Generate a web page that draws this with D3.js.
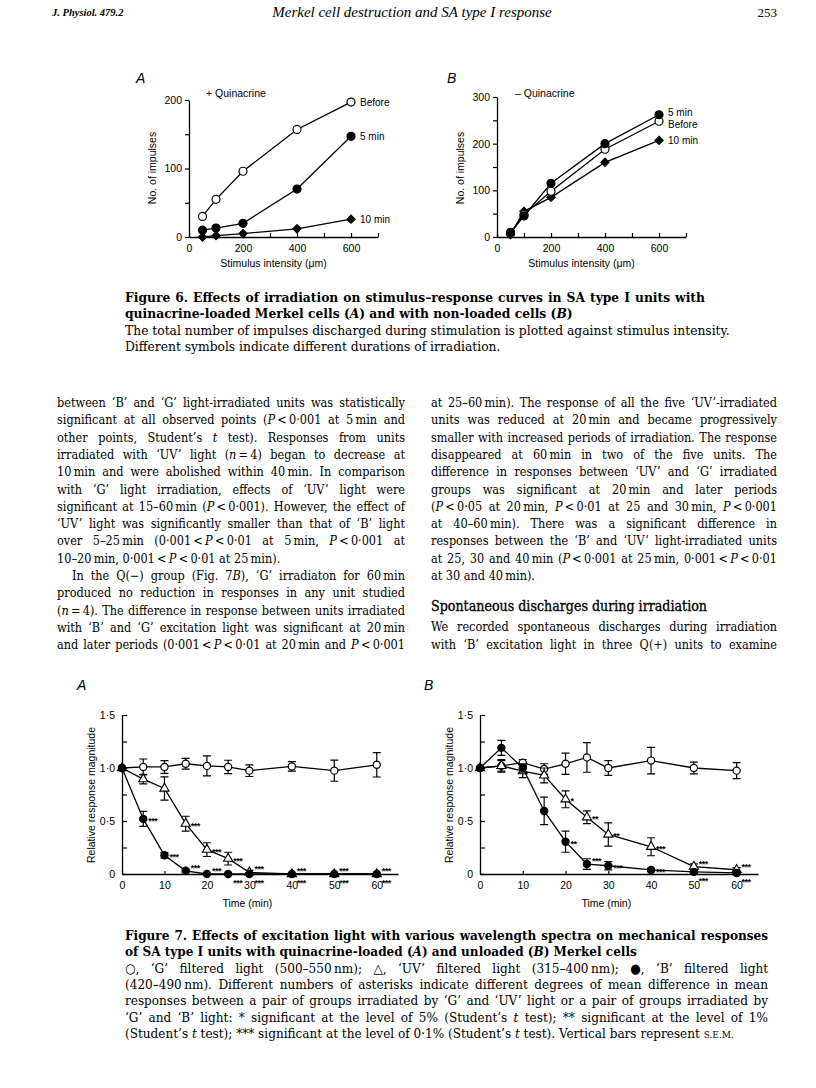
<!DOCTYPE html>
<html>
<head>
<meta charset="utf-8">
<script src="https://cdn.jsdelivr.net/npm/d3@7"></script>
<style>
  body { margin: 0; background: #fff; }
</style>
</head>
<body>
<svg id="page" width="816" height="1088"></svg>
<script>
// ---- Figure 6 data (No. of impulses vs stimulus intensity, um) ----
var stimIntensity = [50, 100, 200, 400, 600];
var quinBefore    = [30, 55, 96, 157, 197];
var quin5min      = [10, 13, 20, 70, 147];
var quin10min     = [0, 2, 5, 12, 26];
var noQuinBefore  = [8, 48, 98, 188, 248];
var noQuin5min    = [10, 45, 115, 200, 262];
var noQuin10min   = [5, 55, 85, 160, 207];
var stimTicks     = [0, 100, 200, 300, 400, 500, 600, 700];
var stimLabels    = [0, 200, 400, 600];
var seriesNames6  = ["Before", "5 min", "10 min"];

// ---- Figure 7 data (relative response magnitude vs time, min) ----
var times    = [0, 5, 10, 15, 20, 25, 30, 40, 50, 60];
var qG       = [1.0, 1.01, 1.01, 1.04, 1.02, 1.01, 0.975, 1.015, 0.975, 1.03];
var qGErr    = [0, 0.075, 0.06, 0.05, 0.095, 0.063, 0.055, 0.045, 0.1, 0.115];
var qUV      = [1.0, 0.895, 0.807, 0.475, 0.23, 0.145, 0.015, 0, 0, 0];
var qUVErr   = [0, 0.045, 0.11, 0.07, 0.065, 0.06, 0.02, 0, 0, 0];
var qB       = [1.0, 0.52, 0.177, 0.03, 0, 0, 0, 0, 0, 0];
var qBErr    = [0, 0.07, 0.025, 0.015, 0, 0, 0, 0, 0, 0];
var nG       = [1.0, 1.02, 1.05, 0.99, 1.04, 1.10, 1.0, 1.07, 1.0, 0.975];
var nGErr    = [0, 0.06, 0.03, 0.05, 0.1, 0.14, 0.07, 0.125, 0.055, 0.075];
var nUV      = [1.0, 1.02, 0.97, 0.93, 0.705, 0.535, 0.373, 0.257, 0.07, 0.04];
var nUVErr   = [0, 0.05, 0.06, 0.07, 0.08, 0.06, 0.11, 0.085, 0.025, 0.02];
var nB       = [1.0, 1.19, 1.0, 0.595, 0.305, 0.094, 0.078, 0.038, 0.02, 0.01];
var nBErr    = [0, 0.07, 0.04, 0.13, 0.1, 0.05, 0.04, 0.015, 0.01, 0.01];
var timeTicks = [0, 10, 20, 30, 40, 50, 60];
var magTicks  = [0, 0.25, 0.5, 0.75, 1.0, 1.25, 1.5];
var magLabels = ["0", "", "0·5", "", "1·0", "", "1·5"];

// significance marks: [time, value, label, where]
var starsQ = [
  [5, 0.52, "***", "r"], [10, 0.177, "***", "r"], [15, 0.03, "***", "ur"], [20, 0, "***", "ur"],
  [15, 0.475, "***", "r"], [20, 0.23, "***", "r"], [25, 0.145, "***", "r"],
  [25, 0, "***", "lr"], [30, 0, "***", "lr"], [40, 0, "***", "lr"], [50, 0, "***", "lr"], [60, 0, "***", "lr"],
  [30, 0.015, "***", "ur"], [40, 0, "***", "ur"], [50, 0, "***", "ur"], [60, 0, "***", "ur"]
];
var starsN = [
  [20, 0.705, "*", "r"], [25, 0.535, "**", "r"], [30, 0.373, "**", "r"], [40, 0.257, "***", "r"],
  [50, 0.07, "***", "ur"], [60, 0.04, "***", "ur"],
  [20, 0.305, "**", "r"], [25, 0.094, "***", "ur"], [30, 0.078, "***", "r"], [40, 0.038, "***", "r"],
  [50, 0.02, "***", "lr"], [60, 0.01, "***", "lr"]
];

var SANS  = "'Liberation Sans', Arial, sans-serif";
var SERIF = "'DejaVu Serif Condensed', 'DejaVu Serif', serif";
var TIMES = "'Liberation Serif', serif";

var svg = d3.select("#page");
svg.append("rect").attr("width", 816).attr("height", 1088).attr("fill", "#fff");

// ---------- running head ----------
svg.append("text").attr("x", 52).attr("y", 16).attr("font-family", TIMES)
    .attr("font-style", "italic").attr("font-weight", "bold").attr("font-size", 10.5).text("J. Physiol. 479.2");
svg.append("text").attr("x", 412).attr("y", 17).attr("text-anchor", "middle").attr("font-family", TIMES)
    .attr("font-style", "italic").attr("font-size", 15).text("Merkel cell destruction and SA type I response");
svg.append("text").attr("x", 777).attr("y", 17).attr("text-anchor", "end").attr("font-family", TIMES)
    .attr("font-size", 13).text("253");

// ---------- helpers ----------
function marker(g, kind, cx, cy, small) {
    var r = small ? 3.6 : 4;
    if (kind == "open" || kind == "filled") {
        g.append("circle").attr("cx", cx).attr("cy", cy).attr("r", r)
            .attr("fill", kind == "open" ? "#fff" : "#000").attr("stroke", "#000").attr("stroke-width", 1.2);
    } else {
        var sym = kind == "diamond" ? d3.symbolDiamond2 : d3.symbolTriangle;
        var size = kind == "diamond" ? 44 : 36;
        g.append("path").attr("d", d3.symbol(sym, size)())
            .attr("transform", "translate(" + cx + "," + cy + ")")
            .attr("fill", kind == "diamond" ? "#000" : "#fff").attr("stroke", "#000").attr("stroke-width", 1.1);
    }
}

function series(g, x, y, xs, ys, errs, kind, small) {
    var pts = xs.map(function(t, i) { return {t: t, v: ys[i], e: errs ? errs[i] : 0}; });
    g.append("path").datum(pts)
        .attr("d", d3.line().x(function(d) { return x(d.t); }).y(function(d) { return y(d.v); }))
        .attr("fill", "none").attr("stroke", "#000").attr("stroke-width", 1.3);
    pts.forEach(function(d) {
        if (d.e > 0) {
            var px = x(d.t), y1 = y(d.v - d.e), y2 = y(d.v + d.e);
            g.append("path").attr("d", "M" + px + "," + y1 + "V" + y2 +
                "M" + (px - 4) + "," + y1 + "h8M" + (px - 4) + "," + y2 + "h8")
                .attr("stroke", "#000").attr("stroke-width", 1.2).attr("fill", "none");
        }
    });
    pts.forEach(function(d) { marker(g, kind, x(d.t), y(d.v), small); });
}

function styleAxis(a) {
    a.selectAll("path.domain").attr("stroke", "#000").attr("stroke-width", 1.3);
    a.selectAll(".tick line").attr("stroke", "#000").attr("stroke-width", 1.2);
    a.selectAll(".tick text").attr("fill", "#000").attr("font-family", SANS).attr("font-size", 10.5);
}

// ---------- Figure 6 panels ----------
function stimPanel(cfg) {
    var g = svg.append("g");
    var x = d3.scaleLinear().domain([0, 700]).range(cfg.xr);
    var y = d3.scaleLinear().domain([0, cfg.ymax]).range(cfg.yr);

    var xa = g.append("g").attr("transform", "translate(0," + cfg.yr[0] + ")")
        .call(d3.axisBottom(x).tickValues(stimTicks).tickSizeInner(-4).tickSizeOuter(0).tickPadding(8)
            .tickFormat(function(d) { return stimLabels.indexOf(d) >= 0 ? d : ""; }));
    var ya = g.append("g").attr("transform", "translate(" + cfg.xr[0] + ",0)")
        .call(d3.axisLeft(y).tickValues(d3.range(0, cfg.ymax + 1, 50)).tickSizeInner(4).tickSizeOuter(0).tickPadding(3)
            .tickFormat(function(d) { return d % 100 == 0 ? d : ""; }));
    styleAxis(xa); styleAxis(ya);

    g.append("text").attr("x", (cfg.xr[0] + cfg.xr[1]) / 2 - 10).attr("y", cfg.yr[0] + 30)
        .attr("text-anchor", "middle").attr("font-family", SANS).attr("font-size", 10.5)
        .text("Stimulus intensity (μm)");
    g.append("text").attr("transform", "translate(" + (cfg.xr[0] - 33) + "," + 168 + ") rotate(-90)")
        .attr("text-anchor", "middle").attr("font-family", SANS).attr("font-size", 10.5)
        .text("No. of impulses");
    g.append("text").attr("x", cfg.panelX).attr("y", 83).attr("font-family", SANS)
        .attr("font-style", "italic").attr("font-size", 14).text(cfg.panel);
    g.append("text").attr("x", cfg.noteX).attr("y", 97).attr("font-family", SANS)
        .attr("font-size", 10.5).text(cfg.note);

    cfg.series.forEach(function(s, i) {
        series(g, x, y, stimIntensity, s.values, null, s.kind, false);
        var last = s.values[s.values.length - 1];
        g.append("text").attr("x", x(600) + 9).attr("y", y(last) + s.dy + 4)
            .attr("font-family", SANS).attr("font-size", 10).text(seriesNames6[s.name]);
    });
}

stimPanel({
    xr: [189, 378], yr: [237, 100], ymax: 200, panel: "A", panelX: 136,
    note: "+ Quinacrine", noteX: 206,
    series: [
        {values: quin10min, kind: "diamond", name: 2, dy: 0},
        {values: quin5min, kind: "filled", name: 1, dy: 0},
        {values: quinBefore, kind: "open", name: 0, dy: 0}
    ]
});
stimPanel({
    xr: [497, 686], yr: [237, 97], ymax: 300, panel: "B", panelX: 447,
    note: "– Quinacrine", noteX: 515,
    series: [
        {values: noQuin10min, kind: "diamond", name: 2, dy: 0},
        {values: noQuinBefore, kind: "open", name: 0, dy: 3},
        {values: noQuin5min, kind: "filled", name: 1, dy: -3}
    ]
});

// ---------- Figure 7 panels ----------
function timePanel(cfg) {
    var g = svg.append("g");
    var x = d3.scaleLinear().domain([0, 65]).range(cfg.xr);
    var y = d3.scaleLinear().domain([0, 1.5]).range([874, 715]);

    var xa = g.append("g").attr("transform", "translate(0,874)")
        .call(d3.axisBottom(x).tickValues(timeTicks).tickSizeInner(-3).tickSizeOuter(0).tickPadding(8));
    var ya = g.append("g").attr("transform", "translate(" + cfg.xr[0] + ",0)")
        .call(d3.axisLeft(y).tickValues(magTicks).tickSizeInner(-5).tickSizeOuter(0).tickPadding(7)
            .tickFormat(function(d, i) { return magLabels[i]; }));
    styleAxis(xa); styleAxis(ya);

    g.append("text").attr("x", x(30) - 2).attr("y", 907).attr("text-anchor", "middle")
        .attr("font-family", SANS).attr("font-size", 10.5).text("Time (min)");
    g.append("text").attr("transform", "translate(" + (cfg.xr[0] - 27) + ",795) rotate(-90)")
        .attr("text-anchor", "middle").attr("font-family", SANS).attr("font-size", 10.5)
        .text("Relative response magnitude");
    g.append("text").attr("x", cfg.panelX).attr("y", 690).attr("font-family", SANS)
        .attr("font-style", "italic").attr("font-size", 14).text(cfg.panel);

    series(g, x, y, times, cfg.g, cfg.gErr, "open", true);
    series(g, x, y, times, cfg.uv, cfg.uvErr, "triangle", true);
    series(g, x, y, times, cfg.b, cfg.bErr, "filled", true);

    var off = {r: 0, ur: -5, lr: 7};
    cfg.stars.forEach(function(s) {
        g.append("text").attr("x", x(s[0]) + 5).attr("y", y(s[1]) + 5 + off[s[3]])
            .attr("font-family", SANS).attr("font-weight", "bold").attr("font-size", 9)
            .attr("letter-spacing", -0.5).text(s[2]);
    });
}

timePanel({xr: [122, 398], panel: "A", panelX: 77, g: qG, gErr: qGErr, uv: qUV, uvErr: qUVErr,
           b: qB, bErr: qBErr, stars: starsQ});
timePanel({xr: [480, 758], panel: "B", panelX: 424, g: nG, gErr: nGErr, uv: nUV, uvErr: nUVErr,
           b: nB, bErr: nBErr, stars: starsN});

// ---------- text ----------
function addRich(t, str) {
    var italic = false, sc = false, buf = "";
    function flush() {
        if (!buf) return;
        var sp = t.append("tspan").text(sc ? buf.toUpperCase() : buf);
        if (italic) sp.attr("font-style", "italic");
        if (sc) sp.attr("font-size", "0.75em");
        buf = "";
    }
    for (var ch of str) {
        if (ch == "_") { flush(); italic = !italic; }
        else if (ch == "^") { flush(); sc = !sc; }
        else buf += ch;
    }
    flush();
}

// lines: [text, justify, bold, indent]
function textBlock(lines, cfg) {
    var g = svg.append("g").attr("font-family", cfg.family).attr("fill", "#000");
    var nodes = lines.map(function(ln, i) {
        var t = g.append("text").attr("x", cfg.x + (ln[3] || 0))
            .attr("y", (cfg.ys ? cfg.ys[i] : cfg.y0 + i * cfg.pitch) + 4)
            .attr("font-size", 12);
        if (ln[2]) t.attr("font-weight", "bold");
        addRich(t, ln[0]);
        return t;
    });
    var worst = 0;
    nodes.forEach(function(t, i) {
        if (lines[i][1]) worst = Math.max(worst, (t.node().getComputedTextLength() + (lines[i][3] || 0)) / cfg.width);
    });
    var size = cfg.size || (12 / worst * 0.985);
    nodes.forEach(function(t, i) {
        t.attr("font-size", size);
        if (!lines[i][1]) return;
        var target = cfg.width - (lines[i][3] || 0);
        var len = t.node().getComputedTextLength();
        var spaces = (t.text().match(/ /g) || []).length;
        var ws = spaces ? (target - len) / spaces : 0;
        if (ws < -1) t.attr("textLength", target).attr("lengthAdjust", "spacing");
        else t.attr("word-spacing", ws);
    });
    return size;
}

var T = "\u2009";
var leftLines = [
    ["between ‘B’ and ‘G’ light-irradiated units was statistically", true],
    ["significant at all observed points (_P_" + T + "<" + T + "0·001 at 5" + T + "min and", true],
    ["other points, Student’s _t_ test). Responses from units", true],
    ["irradiated with ‘UV’ light (_n_" + T + "=" + T + "4) began to decrease at", true],
    ["10" + T + "min and were abolished within 40" + T + "min. In comparison", true],
    ["with ‘G’ light irradiation, effects of ‘UV’ light were", true],
    ["significant at 15–60" + T + "min (_P_" + T + "<" + T + "0·001). However, the effect of", true],
    ["‘UV’ light was significantly smaller than that of ‘B’ light", true],
    ["over 5–25" + T + "min (0·001" + T + "<" + T + "_P_" + T + "<" + T + "0·01 at 5" + T + "min, _P_" + T + "<" + T + "0·001 at", true],
    ["10–20" + T + "min, 0·001" + T + "<" + T + "_P_" + T + "<" + T + "0·01 at 25" + T + "min).", false],
    ["In the Q(−) group (Fig. 7_B_), ‘G’ irradiaton for 60" + T + "min", true, false, 15],
    ["produced no reduction in responses in any unit studied", true],
    ["(_n_" + T + "=" + T + "4). The difference in response between units irradiated", true],
    ["with ‘B’ and ‘G’ excitation light was significant at 20" + T + "min", true],
    ["and later periods (0·001" + T + "<" + T + "_P_" + T + "<" + T + "0·01 at 20" + T + "min and _P_" + T + "<" + T + "0·001", true]
];
var rightLines = [
    ["at 25–60" + T + "min). The response of all the five ‘UV’-irradiated", true],
    ["units was reduced at 20" + T + "min and became progressively", true],
    ["smaller with increased periods of irradiation. The response", true],
    ["disappeared at 60" + T + "min in two of the five units. The", true],
    ["difference in responses between ‘UV’ and ‘G’ irradiated", true],
    ["groups was significant at 20" + T + "min and later periods", true],
    ["(_P_" + T + "<" + T + "0·05 at 20" + T + "min, _P_" + T + "<" + T + "0·01 at 25 and 30" + T + "min, _P_" + T + "<" + T + "0·001", true],
    ["at 40–60" + T + "min). There was a significant difference in", true],
    ["responses between the ‘B’ and ‘UV’ light-irradiated units", true],
    ["at 25, 30 and 40" + T + "min (_P_" + T + "<" + T + "0·001 at 25" + T + "min, 0·001" + T + "<" + T + "_P_" + T + "<" + T + "0·01", true],
    ["at 30 and 40" + T + "min).", false],
    ["We recorded spontaneous discharges during irradiation", true],
    ["with ‘B’ excitation light in three Q(+) units to examine", true]
];
var fig6Caption = [
    ["Figure 6. Effects of irradiation on stimulus–response curves in SA type I units with", true, true],
    ["quinacrine-loaded Merkel cells (_A_) and with non-loaded cells (_B_)", false, true],
    ["The total number of impulses discharged during stimulation is plotted against stimulus intensity.", false],
    ["Different symbols indicate different durations of irradiation.", false]
];
var fig7Caption = [
    ["Figure 7. Effects of excitation light with various wavelength spectra on mechanical responses", true, true],
    ["of SA type I units with quinacrine-loaded (_A_) and unloaded (_B_) Merkel cells", false, true],
    ["○, ‘G’ filtered light (500–550" + T + "nm); △, ‘UV’ filtered light (315–400" + T + "nm); ●, ‘B’ filtered light", true],
    ["(420–490" + T + "nm). Different numbers of asterisks indicate different degrees of mean difference in mean", true],
    ["responses between a pair of groups irradiated by ‘G’ and ‘UV’ light or a pair of groups irradiated by", true],
    ["‘G’ and ‘B’ light: * significant at the level of 5% (Student’s _t_ test); ** significant at the level of 1%", true],
    ["(Student’s _t_ test); *** significant at the level of 0·1% (Student’s _t_ test). Vertical bars represent ^s.e.m.^", false]
];

var rightYs = d3.range(11).map(function(i) { return 403 + i * 17.3; }).concat([627, 644.5]);
var bodySize = textBlock(leftLines, {x: 57, width: 348, y0: 403, pitch: 17.3, family: SERIF});
textBlock(rightLines, {x: 431, width: 346, ys: rightYs, family: SERIF, size: bodySize});
svg.append("text").attr("x", 431).attr("y", 611).attr("font-family", SERIF)
    .attr("font-size", bodySize + 1.5).attr("fill", "#000").attr("stroke", "#000").attr("stroke-width", 0.3)
    .attr("textLength", 276).attr("lengthAdjust", "spacingAndGlyphs")
    .text("Spontaneous discharges during irradiation");

textBlock(fig6Caption, {x: 125, width: 580, y0: 298, pitch: 16.3, family: SERIF});
textBlock(fig7Caption, {x: 125, width: 643, y0: 936, pitch: 16.3, family: SERIF});
</script>
</body>
</html>
